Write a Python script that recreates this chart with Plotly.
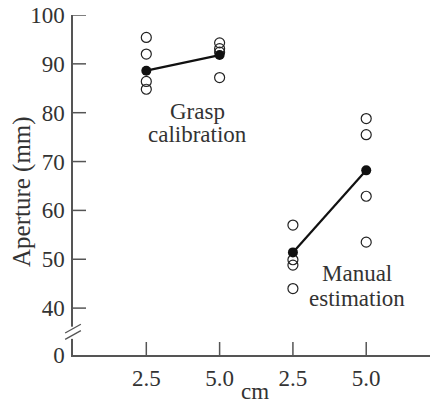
import plotly.graph_objects as go

# Data
x_positions = [1, 2, 3, 4]
x_ticktext = ["2.5", "5.0", "2.5", "5.0"]
grasp_25 = [95.4, 92.0, 86.4, 84.8]
grasp_50 = [94.3, 93.1, 92.4, 87.2]
manual_25 = [57.0, 49.9, 48.8, 44.0]
manual_50 = [78.8, 75.5, 62.9, 53.5]
grasp_means = [88.6, 91.8]
manual_means = [51.4, 68.2]
y_tickvals = [30.4, 40, 50, 60, 70, 80, 90, 100]
y_ticktext = ["0", "40", "50", "60", "70", "80", "90", "100"]

FONT = "Liberation Serif"
TXT = "#333333"
AX = "#555555"
PW, PH = 357, 340  # plot area in px

fig = go.Figure()

open_x = [1] * len(grasp_25) + [2] * len(grasp_50) + [3] * len(manual_25) + [4] * len(manual_50)
open_y = grasp_25 + grasp_50 + manual_25 + manual_50
fig.add_trace(go.Scatter(
    x=open_x, y=open_y, mode="markers",
    marker=dict(symbol="circle-open", size=10, color="#222222", line=dict(width=1.2)),
    showlegend=False, hoverinfo="skip", cliponaxis=False))

for xs, ys in [([1, 2], grasp_means), ([3, 4], manual_means)]:
    fig.add_trace(go.Scatter(
        x=xs, y=ys, mode="lines+markers",
        line=dict(color="#111111", width=2.2),
        marker=dict(symbol="circle", size=10, color="#111111"),
        showlegend=False))

fig.update_layout(
    width=430, height=407,
    margin=dict(l=73, r=0, t=15, b=52),
    paper_bgcolor="white", plot_bgcolor="white",
    font=dict(family=FONT, size=23, color=TXT),
    xaxis=dict(range=[0, 4.87], tickvals=x_positions, ticktext=x_ticktext,
               showline=True, linecolor=AX, linewidth=1.5, ticks="",
               showgrid=False, zeroline=False, ticklabelstandoff=2,
               tickfont=dict(family=FONT, size=23, color=TXT)),
    yaxis=dict(range=[30.4, 100], tickvals=y_tickvals, ticktext=y_ticktext,
               showline=True, linecolor=AX, linewidth=1.5, ticks="",
               showgrid=False, zeroline=False, ticklabelstandoff=2,
               tickfont=dict(family=FONT, size=23, color=TXT)),
)

# inside ticks
for v in y_tickvals[1:]:
    fig.add_shape(type="line", xref="paper", yref="y", x0=0, x1=13 / PW, y0=v, y1=v,
                  line=dict(color=AX, width=1.5), layer="above")
for v in x_positions:
    fig.add_shape(type="line", xref="x", yref="paper", x0=v, x1=v, y0=0, y1=13 / PH,
                  line=dict(color=AX, width=1.5), layer="above")

# axis break
fig.add_shape(type="rect", xref="paper", yref="y", x0=-0.01, x1=0.01, y0=33.7, y1=36.2,
              fillcolor="white", line=dict(width=0), layer="above")
for dy in [0, 1.3]:
    fig.add_shape(type="line", xref="paper", yref="y",
                  x0=-0.022, x1=0.022, y0=33.6 + dy, y1=35.4 + dy,
                  line=dict(color=AX, width=1.3), layer="above")

def px_x(px):
    return (px - 73) / PW

def px_y(py):
    return (355 - py) / PH

labels = [("Grasp", 197, 111), ("calibration", 197, 134),
          ("Manual", 357, 273), ("estimation", 357, 298)]
for t, xx, yy in labels:
    fig.add_annotation(text=t, x=px_x(xx), y=px_y(yy), xref="paper", yref="paper",
                       xanchor="center", yanchor="middle", showarrow=False,
                       font=dict(family=FONT, size=23, color=TXT))

fig.add_annotation(text="Aperture (mm)", x=px_x(22), y=px_y(192), xref="paper", yref="paper",
                   xanchor="center", yanchor="middle", showarrow=False, textangle=-90,
                   font=dict(family=FONT, size=25, color=TXT))
fig.add_annotation(text="cm", x=px_x(255), y=px_y(391), xref="paper", yref="paper",
                   xanchor="center", yanchor="middle", showarrow=False,
                   font=dict(family=FONT, size=23, color=TXT))

fig.write_html("out.html")
